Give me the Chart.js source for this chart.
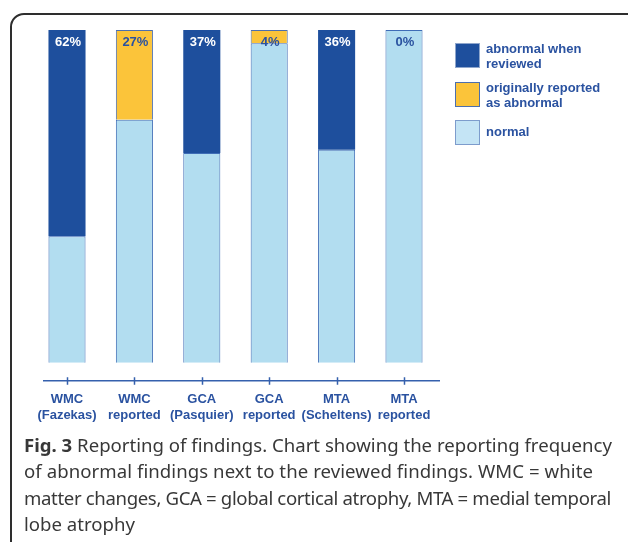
<!DOCTYPE html>
<html>
<head>
<meta charset="utf-8">
<script src="https://cdn.jsdelivr.net/npm/chart.js@4"></script>
<style>
  html, body { margin: 0; padding: 0; background: #fff; width: 628px; height: 542px; overflow: hidden; }
  #frame { position: absolute; left: 10px; top: 13px; width: 660px; height: 580px; border: 2px solid #2e2e2e; border-radius: 14px; box-sizing: border-box; }
  #chart { position: absolute; left: 0; top: 0; }
  .sw { position: absolute; left: 455px; width: 25px; height: 25px; box-sizing: border-box; }
  .lt { position: absolute; left: 486px; font: bold 13px "Liberation Sans", Arial, sans-serif; color: #2a52a0; line-height: 15px; }
  #caption { position: absolute; left: 24px; top: 432px; font: 18.6px "Noto Sans", "Open Sans", sans-serif; color: #383838; line-height: 26.3px; white-space: nowrap; }
  #caption span { display: inline-block; }
</style>
</head>
<body>
<div id="frame"></div>
<canvas id="chart" width="628" height="434"></canvas>
<div class="sw" style="top:43px;background:#1e4f9d;border:1px solid #8fa6cc;"></div>
<div class="lt" style="top:41px;">abnormal when<br>reviewed</div>
<div class="sw" style="top:82px;background:#fbc43a;border:1.5px solid #4c6fae;"></div>
<div class="lt" style="top:80px;">originally reported<br>as abnormal</div>
<div class="sw" style="top:120px;background:#c4e4f5;border:1.5px solid #7d9ccc;"></div>
<div class="lt" style="top:124px;">normal</div>
<div id="caption"><span data-w="588"><b>Fig. 3</b> Reporting of findings. Chart showing the reporting frequency</span><br><span data-w="569">of abnormal findings next to the reviewed findings. WMC = white</span><br><span data-w="587">matter changes, GCA = global cortical atrophy, MTA = medial temporal</span><br><span>lobe atrophy</span></div>
<script>
const categories = [["WMC", "(Fazekas)"], ["WMC", "reported"], ["GCA", "(Pasquier)"], ["GCA", "reported"], ["MTA", "(Scheltens)"], ["MTA", "reported"]];
const normalValues = [38, 73, 63, 96, 64, 100];
const abnormalReviewed = [62, 0, 37, 0, 36, 0];
const originallyReported = [0, 27, 0, 4, 0, 0];
const topLabels = ["62%", "27%", "37%", "4%", "36%", "0%"];

// fit caption lines to the reference line widths
document.querySelectorAll('#caption span[data-w]').forEach(s => {
  const target = +s.dataset.w;
  const w = s.getBoundingClientRect().width;
  const n = s.textContent.length;
  s.style.letterSpacing = ((target - w) / n) + 'px';
});

const TXT = '#2a52a0';
const axisPlugin = {
  id: 'axisPlugin',
  afterDraw(chart) {
    const ctx = chart.ctx;
    const xs = chart.scales.x;
    const y = chart.chartArea.bottom;
    ctx.save();
    ctx.strokeStyle = '#3560ad';
    ctx.lineWidth = 1.5;
    ctx.beginPath();
    ctx.moveTo(43, y);
    ctx.lineTo(440, y);
    categories.forEach((c, i) => {
      const x = Math.round(xs.getPixelForValue(i)) + 0.5;
      ctx.moveTo(x, y - 3.5);
      ctx.lineTo(x, y + 4);
    });
    ctx.stroke();
    ctx.restore();
  }
};
const labelPlugin = {
  id: 'labelPlugin',
  afterDatasetsDraw(chart) {
    const ctx = chart.ctx;
    const xs = chart.scales.x, ys = chart.scales.y;
    ctx.save();
    ctx.font = 'bold 13px "Liberation Sans", Arial, sans-serif';
    ctx.textAlign = 'center';
    ctx.textBaseline = 'alphabetic';
    topLabels.forEach((t, i) => {
      const x = xs.getPixelForValue(i) + 1;
      const y = ys.getPixelForValue(100) + 15.5;
      ctx.fillStyle = abnormalReviewed[i] > 0 ? '#ffffff' : TXT;
      ctx.fillText(t, x, y);
    });
    ctx.restore();
  }
};

new Chart(document.getElementById('chart'), {
  type: 'bar',
  data: {
    labels: categories,
    datasets: [
      { label: 'normal', data: normalValues, backgroundColor: '#b2ddf0', borderColor: '#3f6db6', borderWidth: 1, borderSkipped: 'bottom' },
      { label: 'abnormal when reviewed', data: abnormalReviewed, backgroundColor: '#1e4f9d', borderColor: '#1e4f9d', borderWidth: 0 },
      { label: 'originally reported as abnormal', data: originallyReported, backgroundColor: '#fbc43a', borderColor: '#4c6fae', borderWidth: 1 }
    ]
  },
  options: {
    responsive: false,
    animation: false,
    layout: { padding: { left: 33.3, right: 190.3, top: 30, bottom: 0 } },
    plugins: { legend: { display: false }, tooltip: { enabled: false } },
    datasets: { bar: { barPercentage: 0.55, categoryPercentage: 1 } },
    scales: {
      x: {
        stacked: true,
        grid: { display: false, drawTicks: false },
        border: { display: false },
        ticks: { color: TXT, padding: 11, autoSkip: false, maxRotation: 0, minRotation: 0, font: { family: '"Liberation Sans", Arial, sans-serif', size: 13, weight: 'bold', lineHeight: 1.2 } }
      },
      y: { stacked: true, display: false, min: -5.42, max: 100 }
    }
  },
  plugins: [axisPlugin, labelPlugin]
});
</script>
</body>
</html>
